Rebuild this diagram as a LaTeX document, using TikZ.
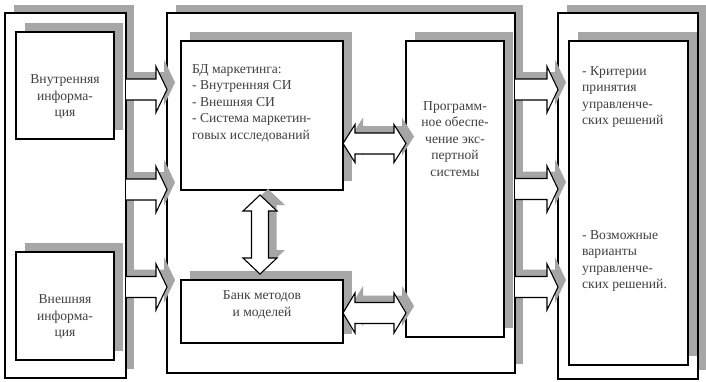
\documentclass[tikz,border=0pt]{standalone}
\usepackage{fontspec}
\setmainfont{Liberation Serif}
\newcommand\rarr[4]{% x0 x1 yc style
  \fill[shd] ({#1+8},{#3-10.5-7}) -- ({#2-11+8},{#3-10.5-7}) -- ({#2-11+8},{#3-23-7}) -- ({#2+8},{#3-7}) -- ({#2-11+8},{#3+23-7}) -- ({#2-11+8},{#3+10.5-7}) -- ({#1+8},{#3+10.5-7}) -- cycle;
  \draw[arrbox] ({#1},{#3-10.5}) -- ({#2-11},{#3-10.5}) -- ({#2-11},{#3-23}) -- ({#2},{#3}) -- ({#2-11},{#3+23}) -- ({#2-11},{#3+10.5}) -- ({#1},{#3+10.5});}
\newcommand\harr[4]{% x0 x1 yc H
  \fill[shd] ({#1+8},{#3-7}) -- ({#1+12+8},{#3-#4-7}) -- ({#1+12+8},{#3-10.5-7}) -- ({#2-12+8},{#3-10.5-7}) -- ({#2-12+8},{#3-#4-7}) -- ({#2+8},{#3-7}) -- ({#2-12+8},{#3+#4-7}) -- ({#2-12+8},{#3+10.5-7}) -- ({#1+12+8},{#3+10.5-7}) -- ({#1+12+8},{#3+#4-7}) -- cycle;
  \draw[arrbox] ({#1},{#3}) -- ({#1+12},{#3-#4}) -- ({#1+12},{#3-10.5}) -- ({#2-12},{#3-10.5}) -- ({#2-12},{#3-#4}) -- ({#2},{#3}) -- ({#2-12},{#3+#4}) -- ({#2-12},{#3+10.5}) -- ({#1+12},{#3+10.5}) -- ({#1+12},{#3+#4}) -- cycle;}
\begin{document}
\begin{tikzpicture}[x=1pt,y=-1pt,
  shd/.style={fill=black!35},
  box/.style={draw=black,line width=1.1pt,fill=white},
  arrbox/.style={draw=black,line width=1.1pt,fill=white,line join=miter},
  txt/.style={text=black!75,font=\fontsize{13.6}{16.5}\selectfont,inner sep=0pt}]
\useasboundingbox (0,0) rectangle (706,381);
% outer boxes shadows and boxes
\foreach \a/\b/\c/\d in {5/13/126/378, 167/13/515/373, 558/13/698/379}
  {\fill[shd] (\a+9,\b-8) rectangle (\c+8,\d-9);
   \draw[box] (\a,\b) rectangle (\c,\d);}
% inner box shadows
\foreach \a/\b/\c/\d in {16/32/114/139, 16/252/114/360, 181/41/343/190, 181/280/343/343, 406/41/504/337, 569/41/688/365}
  {\fill[shd] (\a+9,\b-9) rectangle (\c+9,\d-9);}
% inner boxes
\draw[box] (16,32) rectangle (114,139);
\draw[box] (16,252) rectangle (114,360);
\draw[box] (181,41) rectangle (343,190);
\draw[box] (181,280) rectangle (343,343);
\draw[box] (406,41) rectangle (504,337);
\draw[box] (569,41) rectangle (688,365);
% texts
\node[txt,align=center] (t1) at (65,97) {Внутренняя\\информа-\\ция};
\node[txt,align=center] (t2) at (65,317) {Внешняя\\информа-\\ция};
\node[txt,align=left,anchor=north west] (t3) at (192,64) {БД маркетинга:\\- Внутренняя СИ\\- Внешняя СИ\\- Система маркетин-\\говых исследований};
\node[txt,align=center] (t4) at (262,305) {Банк методов\\и моделей};
\node[txt,align=center] (t5) at (455,139) {Программ-\\ное обеспе-\\чение экс-\\пертной\\системы};
\node[txt,align=left,anchor=north west] (t6) at (582,66) {- Критерии\\принятия\\управленче-\\ских решений};
\node[txt,align=left,anchor=north west] (t7) at (582,230) {- Возможные\\варианты\\управленче-\\ских решений.};
% right arrows
\rarr{126}{167}{89.5}{}
\rarr{126}{167}{189.5}{}
\rarr{126}{167}{287}{}
\rarr{515}{558}{89.5}{}
\rarr{515}{558}{189}{}
\rarr{515}{558}{287}{}
% horizontal double arrows
\harr{343}{406}{143.5}{19}
\harr{343}{406}{313}{20}
% vertical double arrow
\fill[shd] (268,189) -- (285,205) -- (276.5,205) -- (276.5,250) -- (285,250) -- (268,266) -- (251,250) -- (259.5,250) -- (259.5,205) -- (251,205) -- cycle;
\draw[arrbox] (260,195) -- (277,211) -- (268.5,211) -- (268.5,258) -- (277,258) -- (260,274) -- (243,258) -- (251.5,258) -- (251.5,211) -- (243,211) -- cycle;
\end{tikzpicture}
\end{document}
